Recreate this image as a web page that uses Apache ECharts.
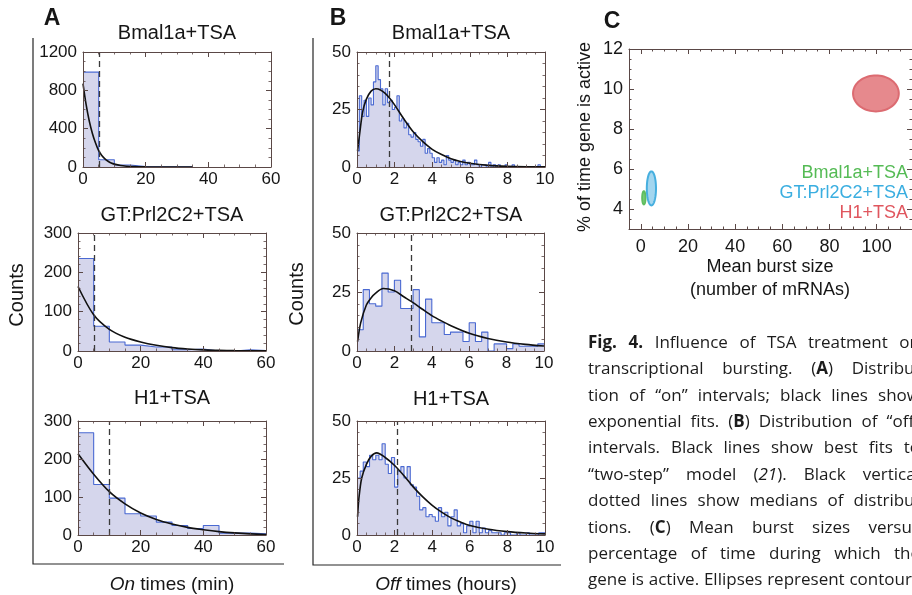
<!DOCTYPE html>
<html>
<head>
<meta charset="utf-8">
<script src="https://cdn.jsdelivr.net/npm/echarts@6.0.0/dist/echarts.min.js"></script>
<style>
html,body{margin:0;padding:0;background:#ffffff;}
#chart{width:912px;height:595px;}
</style>
</head>
<body>
<div id="chart"></div>
<script>
// ================= DATA =================
// (A) "On" time histograms (minutes), 5-min bins starting at 0
const onBinWidth = 5;
const onCountsBmal1a = [990, 76, 21, 6, 2, 1, 1];
const onCountsPrl2c2 = [235, 63, 23, 15, 10, 10, 3, 5, 0, 0, 3, 1];
const onCountsH1 = [269, 133, 97, 56, 50, 34, 25, 17, 25, 5, 5, 3];
// exponential fits
const onFitBmal1aT = [0, 1, 2, 3, 4, 5, 6, 7, 8, 9, 10, 12, 14, 16, 20, 25, 30, 35];
const onFitBmal1aN = [870, 650, 480, 350, 250, 170, 120, 85, 60, 42, 30, 15, 8, 4, 1, 0.3, 0.1, 0];
const onFitPrl2c2T = [0, 5, 10, 15, 20, 25, 30, 35, 40, 45, 50, 55, 60];
const onFitPrl2c2N = [164, 92, 55, 35, 23, 14.5, 8.5, 5, 2.8, 1.8, 1, 0.6, 0.3];
const onFitH1T = [0, 5, 10, 15, 20, 25, 30, 35, 40, 45, 50, 55, 60];
const onFitH1N = [214, 160, 114, 82, 58, 41, 29, 20, 14, 9, 5.5, 3, 1.5];
const onMedians = [5.2, 5.3, 9.9];

// (B) "Off" time histograms (hours)
const offBinWidthBmal1a = 0.125;
const offCountsBmal1a = [7,31,22,29,22,30,27,37, 44,38,34,27,34,28,29,25, 26,31,20,21,17,19,14,13,
  15,12,11,9,12,6,8,6, 4,2,4,2,3,1,5,3, 2,3,1,2,1,3,1,2, 1,1,3,1,0,1,1,0, 2,0,1,0,1,0,0,1,
  0,0,1,0,0,0,0,0, 0,0,0,0,0,1,0,0];
const offBinWidthPrl2c2 = 1 / 3;
const offCountsPrl2c2 = [9,26,20,19,33,25,30,18,18,26, 6,22,12,12,7,8,8,4,12,4, 8,0,3,3,1,3,2,2,2,3];
const offBinWidthH1 = 1 / 6;
const offCountsH1 = [25,28,32,30,35,33,35,33,40,31, 27,34,21,28,30,25,30,22,21,17,
  11,12,8,9,8,6,12,8,10,4, 8,11,4,5,1,4,6,1,6,1, 3,1,2,1,1,1,0,1,1,0, 0,1,0,0,1,0,0,0,1,1];
// "two-step" model fits
const offFitBmal1aT = [0.03, 0.15, 0.3, 0.5, 0.75, 1, 1.25, 1.5, 1.75, 2, 2.5, 3, 3.5, 4, 4.5, 5, 5.5, 6, 7, 8, 9, 10];
const offFitBmal1aN = [7, 15, 24, 29.5, 33, 34, 33.5, 32, 29.8, 27, 20.8, 15.2, 11, 7.7, 5.4, 3.6, 2.4, 1.6, 0.7, 0.3, 0.12, 0.05];
const offFitPrl2c2T = [0.03, 0.2, 0.5, 0.75, 1, 1.4, 2, 2.5, 3, 3.5, 4, 4.5, 5, 6, 7, 8, 9, 10];
const offFitPrl2c2N = [4, 12, 19.5, 22.5, 24.5, 26.5, 25.5, 23, 20.5, 17.7, 15, 12.8, 10.8, 7.5, 5.3, 3.8, 2.8, 2.1];
const offFitH1T = [0.03, 0.1, 0.25, 0.5, 0.75, 1.05, 1.5, 2, 2.5, 3, 3.5, 4, 4.5, 5, 5.5, 6, 7, 8, 9, 10];
const offFitH1N = [8, 16, 25, 31, 34.5, 36, 34, 30.5, 26, 21, 16.7, 13, 10, 7.5, 5.7, 4.2, 2.5, 1.5, 0.9, 0.5];
const offMedians = [1.7, 2.9, 2.13];

// (C) burst size vs % time active (ellipse centres and half-axes)
const ellipseNames = ['Bmal1a+TSA', 'GT:Prl2C2+TSA', 'H1+TSA'];
const burstSize = [1.3, 4.5, 99.7];
const pctActive = [4.56, 5.03, 9.78];
const burstHalfWidth = [0.7, 1.95, 9.7];
const pctHalfHeight = [0.33, 0.85, 0.9];

const titles = ['Bmal1a+TSA', 'GT:Prl2C2+TSA', 'H1+TSA'];
const cTicksX = [0, 20, 40, 60, 80, 100];
const cTicksY = [4, 6, 8, 10, 12];
const cMinorX = [-5, 5, 10, 15, 25, 30, 35, 45, 50, 55, 65, 70, 75, 85, 90, 95, 105, 110, 115];
const cMinorY = [3, 3.5, 4.5, 5, 5.5, 6.5, 7, 7.5, 8.5, 9, 9.5, 10.5, 11, 11.5];

const captionLines = [
  "*Fig.* *4.* Influence of TSA treatment on",
  "transcriptional bursting. (*A*) Distribu-",
  "tion of \u201con\u201d intervals; black lines show",
  "exponential fits. (*B*) Distribution of \u201coff\u201d",
  "intervals. Black lines show best fits to",
  "\u201ctwo-step\u201d model (_21_). Black vertical",
  "dotted lines show medians of distribu-",
  "tions. (*C*) Mean burst sizes versus",
  "percentage of time during which the",
  "gene is active. Ellipses represent contours"
];

// ================= STYLE / LAYOUT =================
const FRAME = '#5a4846', TXT = '#161616', BLUE = '#4a69d2', FILL = '#d5d6ec';
const SANS = 'Liberation Sans';
const ELL_FILL = ['#7fcb7f', '#a3d6ef', '#e6898d'];
const ELL_STROKE = ['#5fbe5f', '#46afdf', '#dc6b71'];
const LEG_COLOR = ['#55bb55', '#3aaee0', '#e0565e'];

const panels = [
  {box:{left:83, top:52, width:188, height:115}, xmax:60, xint:20, xminor:4, ymax:1200, yint:400, yminor:4,
   w:onBinWidth, counts:onCountsBmal1a, fx:onFitBmal1aT, fy:onFitBmal1aN, med:onMedians[0]},
  {box:{left:78, top:233, width:188, height:118}, xmax:60, xint:20, xminor:4, ymax:300, yint:100, yminor:5,
   w:onBinWidth, counts:onCountsPrl2c2, fx:onFitPrl2c2T, fy:onFitPrl2c2N, med:onMedians[1]},
  {box:{left:78, top:421, width:188, height:114}, xmax:60, xint:20, xminor:4, ymax:300, yint:100, yminor:5,
   w:onBinWidth, counts:onCountsH1, fx:onFitH1T, fy:onFitH1N, med:onMedians[2]},
  {box:{left:357, top:52, width:188, height:115}, xmax:10, xint:2, xminor:4, ymax:50, yint:25, yminor:5,
   w:offBinWidthBmal1a, counts:offCountsBmal1a, fx:offFitBmal1aT, fy:offFitBmal1aN, med:offMedians[0]},
  {box:{left:357, top:233, width:187, height:118}, xmax:10, xint:2, xminor:4, ymax:50, yint:25, yminor:5,
   w:offBinWidthPrl2c2, counts:offCountsPrl2c2, fx:offFitPrl2c2T, fy:offFitPrl2c2N, med:offMedians[1]},
  {box:{left:357, top:421, width:188, height:114}, xmax:10, xint:2, xminor:4, ymax:50, yint:25, yminor:5,
   w:offBinWidthH1, counts:offCountsH1, fx:offFitH1T, fy:offFitH1N, med:offMedians[2]}
];

function histData(counts, w) {
  const d = counts.map((c, i) => [i * w, c]);
  d.push([counts.length * w, counts[counts.length - 1]]);
  return d;
}
function zip(a, b) { return a.map((v, i) => [v, b[i]]); }
const plainNum = v => String(v);

function axisBase(gi, pos, max, interval, minorSplit, showLabel, margin) {
  return {
    type: 'value', gridIndex: gi, position: pos, min: 0, max: max, interval: interval, z: 10,
    splitLine: {show: false},
    axisLine: {show: true, onZero: false, lineStyle: {color: FRAME, width: 1}},
    axisTick: {show: true, inside: true, length: 5, lineStyle: {color: FRAME, width: 1}},
    minorTick: {show: true, splitNumber: minorSplit, length: 2.5, lineStyle: {color: FRAME, width: 0.8}},
    axisLabel: {show: showLabel, color: TXT, fontSize: 17, fontFamily: SANS, margin: margin, formatter: plainNum}
  };
}

const grid = [], xAxis = [], yAxis = [], series = [];
panels.forEach((p, i) => {
  grid.push(Object.assign({show: false}, p.box));
  xAxis.push(axisBase(i, 'bottom', p.xmax, p.xint, p.xminor, true, 4));
  xAxis.push(axisBase(i, 'top', p.xmax, p.xint, p.xminor, false, 4));
  yAxis.push(axisBase(i, 'left', p.ymax, p.yint, p.yminor, true, 6));
  yAxis.push(axisBase(i, 'right', p.ymax, p.yint, p.yminor, false, 6));
  series.push({
    type: 'line', xAxisIndex: 2 * i, yAxisIndex: 2 * i, step: 'end', symbol: 'none', z: 2,
    data: histData(p.counts, p.w),
    lineStyle: {color: BLUE, width: 1.1},
    areaStyle: {color: FILL, opacity: 1}
  });
  series.push({
    type: 'line', xAxisIndex: 2 * i, yAxisIndex: 2 * i, symbol: 'none', z: 4,
    smooth: 0.3,
    data: zip(p.fx, p.fy),
    lineStyle: {color: '#111111', width: 1.6},
    markLine: {silent: true, symbol: ['none', 'none'], label: {show: false},
      lineStyle: {color: '#3a3a3a', type: [6, 4], width: 1.3},
      data: [{xAxis: p.med}]}
  });
});

// ---- panel C ----
const cGi = 6;
grid.push({show: false, left: 629, top: 49, width: 289, height: 180});
function cAxis(pos, min, max, ticks, labels, len, showLine, margin) {
  return {
    type: 'value', gridIndex: cGi, position: pos, min: min, max: max, z: 10,
    splitLine: {show: false},
    axisLine: {show: showLine, onZero: false, lineStyle: {color: FRAME, width: 1}},
    axisTick: {show: true, inside: true, length: len, customValues: ticks, lineStyle: {color: FRAME, width: 1}},
    axisLabel: labels ? {show: true, customValues: labels, color: TXT, fontSize: 18, fontFamily: SANS, margin: margin}
                      : {show: false}
  };
}
xAxis.push(cAxis('bottom', -5, 115, cTicksX, cTicksX, 5, true, 9));   // 12
xAxis.push(cAxis('bottom', -5, 115, cMinorX, null, 2.5, false, 0));   // 13
xAxis.push(cAxis('top', -5, 115, cTicksX, null, 5, true, 0));         // 14
xAxis.push(cAxis('top', -5, 115, cMinorX, null, 2.5, false, 0));      // 15
yAxis.push(cAxis('left', 3, 12, cTicksY, cTicksY, 5, true, 6));       // 12
yAxis.push(cAxis('left', 3, 12, cMinorY, null, 2.5, false, 0));       // 13
yAxis.push(cAxis('right', 3, 12, cTicksY, null, 5, true, 0));         // 14
yAxis.push(cAxis('right', 3, 12, cMinorY, null, 2.5, false, 0));      // 15

series.push({
  type: 'custom', xAxisIndex: 12, yAxisIndex: 12, z: 3, clip: false,
  data: burstSize.map((x, i) => [x, pctActive[i], burstHalfWidth[i], pctHalfHeight[i], i]),
  renderItem: function (params, api) {
    const c = api.coord([api.value(0), api.value(1)]);
    const s = api.size([api.value(2), api.value(3)]);
    const pts = [];
    for (let k = 0; k < 72; k++) {
      const a = k / 72 * 2 * Math.PI;
      pts.push([c[0] + s[0] * Math.cos(a), c[1] + s[1] * Math.sin(a)]);
    }
    const idx = api.value(4);
    return {type: 'polygon', shape: {points: pts},
      style: {fill: ELL_FILL[idx], stroke: ELL_STROKE[idx], lineWidth: 2}};
  }
});

// ================= TEXT / DECORATION =================
function txt(x, y, text, size, opts) {
  opts = opts || {};
  return {
    type: 'text', x: x, y: y, rotation: opts.rot || 0, z: 20,
    style: Object.assign({
      text: text, fontSize: size, fontFamily: opts.family || SANS,
      fontWeight: opts.weight || 'normal', fontStyle: opts.style || 'normal',
      fill: opts.color || TXT, textAlign: opts.align || 'center',
      textVerticalAlign: 'middle', verticalAlign: 'middle'
    }, opts.extra || {})
  };
}

const graphic = [];
graphic.push(txt(52, 19, 'A', 23, {weight: 'bold'}));
graphic.push(txt(338, 19, 'B', 23, {weight: 'bold'}));
graphic.push(txt(612, 22, 'C', 23, {weight: 'bold'}));
[[177, 33], [172, 215], [172, 398]].forEach((p, i) => graphic.push(txt(p[0], p[1], titles[i], 20)));
[[451, 33], [451, 215], [451, 399]].forEach((p, i) => graphic.push(txt(p[0], p[1], titles[i], 20)));
graphic.push(txt(17, 295, 'Counts', 20, {rot: Math.PI / 2}));
graphic.push(txt(297, 294, 'Counts', 20, {rot: Math.PI / 2}));
graphic.push(txt(172, 585, '{i|On} times (min)', 19, {extra: {rich: {i: {fontStyle: 'italic', fontSize: 19, fontFamily: SANS}}}}));
graphic.push(txt(446, 585, '{i|Off} times (hours)', 19, {extra: {rich: {i: {fontStyle: 'italic', fontSize: 19, fontFamily: SANS}}}}));
graphic.push(txt(585, 137, '% of time gene is active', 18, {rot: Math.PI / 2}));
graphic.push(txt(770, 267, 'Mean burst size', 18));
graphic.push(txt(770, 290, '(number of mRNAs)', 18));
[173, 193.5, 213.5].forEach((y, i) => graphic.push(txt(908, y, ellipseNames[i], 18, {align: 'right', color: LEG_COLOR[i]})));
graphic.push({type: 'polyline', z: 20, shape: {points: [[33, 38], [33, 564], [284, 564]]},
  style: {stroke: '#262626', lineWidth: 1.2, fill: null}});
graphic.push({type: 'polyline', z: 20, shape: {points: [[313, 38], [313, 565], [561, 565]]},
  style: {stroke: '#262626', lineWidth: 1.2, fill: null}});

// caption (justified)
const CAP_FONT = 'Open Sans', CAP_SIZE = 17, CAP_LEFT = 588, CAP_RIGHT = 920, CAP_TOP = 343, CAP_LEAD = 26.4;
const mctx = document.createElement('canvas').getContext('2d');
function fontStr(st) {
  return (st === 'i' ? 'italic ' : 'normal ') + (st === 'b' ? 'bold ' : 'normal ') + CAP_SIZE + 'px ' + CAP_FONT;
}
function measure(t, st) { mctx.font = fontStr(st); return mctx.measureText(t).width; }
const spaceW = measure(' ', 'n');
captionLines.forEach((line, li) => {
  const words = line.split(' ').map(wd => wd.split(/(\*[^*]+\*|_[^_]+_)/).filter(s => s).map(s =>
    s[0] === '*' ? {t: s.slice(1, -1), st: 'b'} : (s[0] === '_' ? {t: s.slice(1, -1), st: 'i'} : {t: s, st: 'n'})));
  const ww = words.map(segs => segs.reduce((a, g) => a + measure(g.t, g.st), 0));
  const total = ww.reduce((a, b) => a + b, 0);
  let gap = (CAP_RIGHT - CAP_LEFT - total) / (words.length - 1);
  if (gap < spaceW * 0.75) gap = spaceW * 0.75;
  let x = CAP_LEFT;
  const y = CAP_TOP + li * CAP_LEAD;
  words.forEach((segs, wi) => {
    let sx = x;
    segs.forEach(g => {
      graphic.push(txt(sx, y, g.t, CAP_SIZE, {family: CAP_FONT, align: 'left', color: '#1c1c1c',
        weight: g.st === 'b' ? 'bold' : 'normal', style: g.st === 'i' ? 'italic' : 'normal'}));
      sx += measure(g.t, g.st);
    });
    x += ww[wi] + gap;
  });
});

const chart = echarts.init(document.getElementById('chart'));
chart.setOption({
  animation: false,
  backgroundColor: '#ffffff',
  grid: grid, xAxis: xAxis, yAxis: yAxis, series: series, graphic: graphic
});
</script>
</body>
</html>
